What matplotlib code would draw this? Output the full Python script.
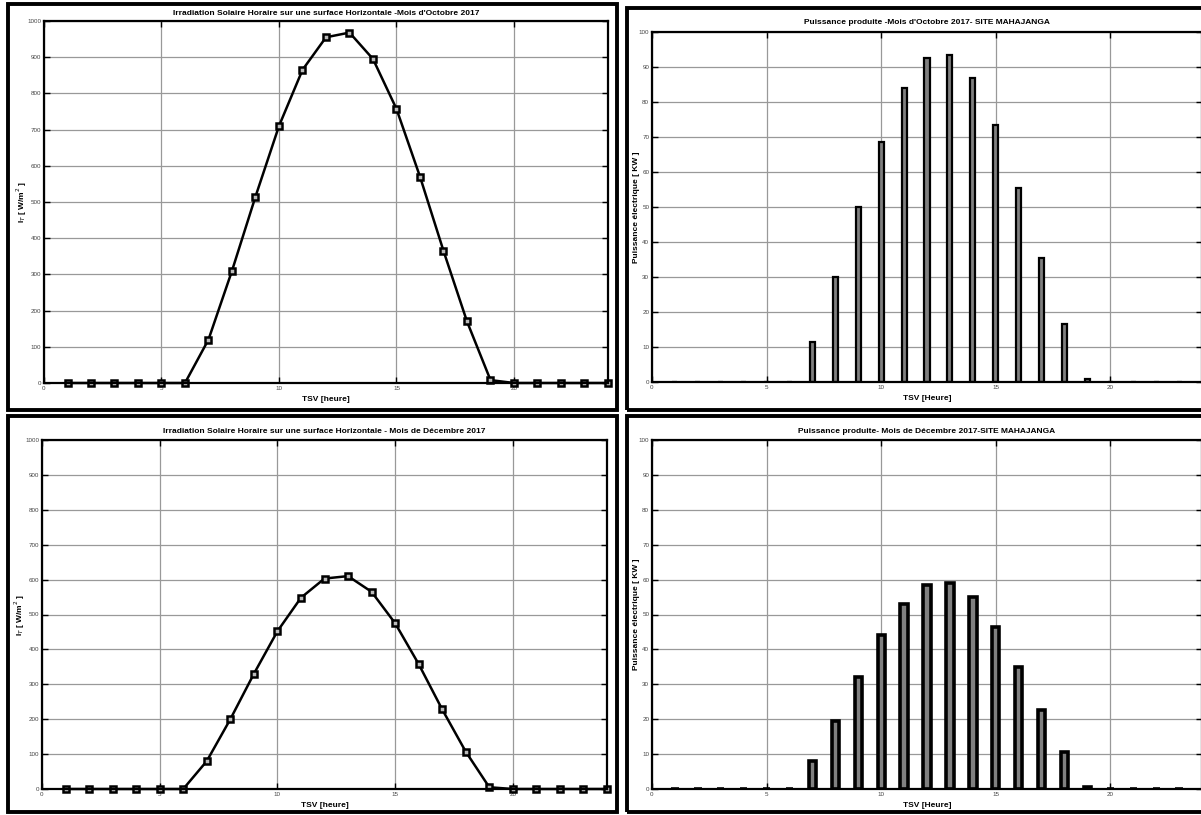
import matplotlib
matplotlib.use("Agg")
import matplotlib.pyplot as plt
from matplotlib.patches import Rectangle

plt.rcParams['font.family'] = ['Liberation Sans Narrow', 'Liberation Sans', 'DejaVu Sans']

# heures TSV
heures = list(range(1, 25))
# irradiation horaire (W/m2)
irr_oct = [0, 0, 0, 0, 0, 0, 120, 310, 515, 710, 865, 955, 968, 895, 757, 570, 365, 170, 8, 0, 0, 0, 0, 0]
irr_dec = [0, 0, 0, 0, 0, 0, 80, 200, 330, 452, 548, 603, 610, 565, 475, 358, 228, 107, 5, 0, 0, 0, 0, 0]
# puissance produite (KW)
puis_oct = [0, 0, 0, 0, 0, 0, 11.5, 30, 50, 68.5, 84, 92.5, 93.5, 87, 73.5, 55.5, 35.5, 16.5, 0.8, 0, 0, 0, 0]
puis_dec = [0, 0, 0, 0, 0, 0, 8, 19.5, 32, 44, 53, 58.5, 59, 55, 46.5, 35, 22.5, 10.5, 0.5, 0, 0, 0, 0]

titres = ["Irradiation Solaire Horaire sur une surface Horizontale -Mois d'Octobre 2017",
          "Puissance produite -Mois d'Octobre 2017- SITE MAHAJANGA",
          "Irradiation Solaire Horaire sur une surface Horizontale - Mois de Décembre 2017",
          "Puissance produite- Mois de Décembre 2017-SITE MAHAJANGA"]

W, H = 1201, 815
fig = plt.figure(figsize=(W/100, H/100), dpi=100)

def px_axes(l, t, r, b):
    return fig.add_axes([l/W, 1-b/H, (r-l)/W, (b-t)/H])

def cadre(l, t, r, b):
    fig.patches.append(Rectangle((l/W, 1-b/H), (r-l)/W, (b-t)/H, transform=fig.transFigure,
                                 fill=False, edgecolor='black', linewidth=2.8, zorder=0))

cadre(8, 4, 617, 410)
cadre(627, 8, 1205, 410)
cadre(8, 416, 617, 812)
cadre(627, 416, 1205, 812)

def style(ax, ymax, ystep, xlab, ylab, titre, tpad):
    ax.set_xlim(0, 24)
    ax.set_ylim(0, ymax)
    ax.set_xticks([0, 5, 10, 15, 20])
    ax.set_yticks(range(0, ymax+1, ystep))
    ax.grid(True, color='#999999', linewidth=0.9)
    ax.set_axisbelow(True)
    ax.tick_params(direction='in', length=4, width=1, labelsize=4.5, colors='black',
                   labelcolor='#444444', top=True, right=True, pad=2)
    for s in ax.spines.values():
        s.set_linewidth(1.6)
    ax.set_title(titre, fontsize=6, fontweight='bold', pad=tpad)
    ax.set_xlabel(xlab, fontsize=6, fontweight='bold', labelpad=4)
    ax.set_ylabel(ylab, fontsize=6, fontweight='bold', labelpad=-1)

# irradiation Octobre
ax1 = px_axes(44, 21, 608, 383)
ax1.plot(heures, irr_oct, color='black', linewidth=1.8, marker='s', markersize=5,
         markerfacecolor='#bbbbbb', markeredgecolor='black', markeredgewidth=1.8, clip_on=False)
style(ax1, 1000, 100, 'TSV [heure]', r'I$_T$ [ W/m$^2$ ]', titres[0], 4)

# puissance Octobre
ax2 = px_axes(652, 32, 1202, 382)
ax2.bar(heures[:23], puis_oct, width=0.22, color='#808080', edgecolor='black', linewidth=1.6)
style(ax2, 100, 10, 'TSV [Heure]', 'Puissance électrique [ KW ]', titres[1], 6)

# irradiation Decembre
ax3 = px_axes(42, 440, 607, 789)
ax3.plot(heures, irr_dec, color='black', linewidth=1.8, marker='s', markersize=5,
         markerfacecolor='#bbbbbb', markeredgecolor='black', markeredgewidth=1.8, clip_on=False)
style(ax3, 1000, 100, 'TSV [heure]', r'I$_T$ [ W/m$^2$ ]', titres[2], 5)

# puissance Decembre
ax4 = px_axes(652, 440, 1202, 789)
ax4.bar(heures[:23], puis_dec, width=0.32, color='#808080', edgecolor='black', linewidth=2.6)
style(ax4, 100, 10, 'TSV [Heure]', 'Puissance électrique [ KW ]', titres[3], 5)

fig.savefig('out.png', dpi=100)
